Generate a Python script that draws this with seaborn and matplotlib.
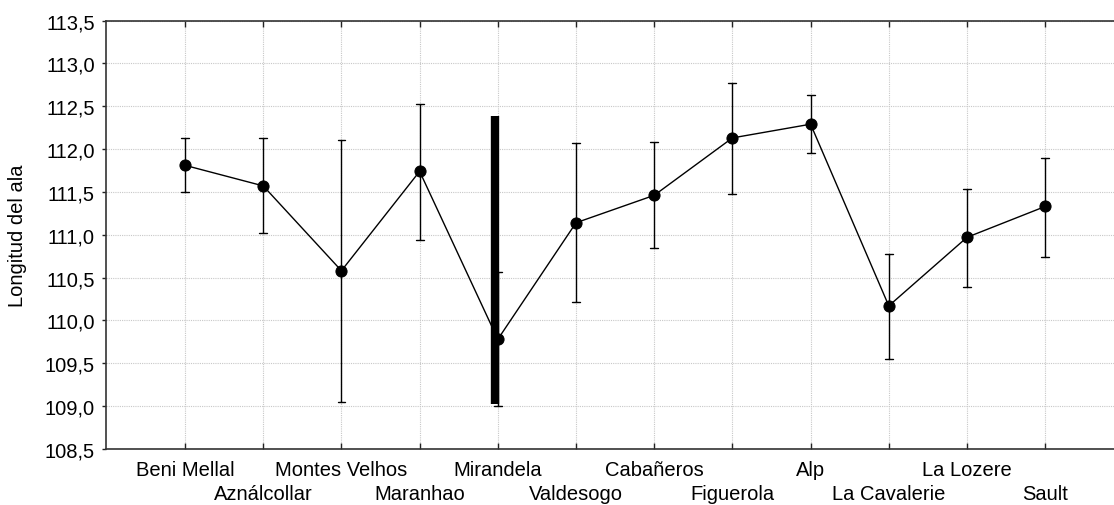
import pandas as pd
import seaborn as sns
import matplotlib.pyplot as plt

# data
sites = ['Beni Mellal', 'Aználcollar', 'Montes Velhos', 'Maranhao', 'Mirandela', 'Valdesogo',
         'Cabañeros', 'Figuerola', 'Alp', 'La Cavalerie', 'La Lozere', 'Sault']
means = [111.81, 111.57, 110.58, 111.74, 109.78, 111.14, 111.46, 112.13, 112.29, 110.17, 110.97, 111.33]
lower = [111.50, 111.02, 109.05, 110.94, 109.00, 110.22, 110.85, 111.48, 111.95, 109.55, 110.39, 110.74]
upper = [112.13, 112.13, 112.11, 112.52, 110.56, 112.07, 112.08, 112.77, 112.63, 110.78, 111.53, 111.90]
# thick vertical bar drawn at Mirandela
bar_site = 'Mirandela'
bar_range = [109.03, 112.39]

yticks = [108.5 + 0.5 * i for i in range(11)]

sns.set_theme(style='white')
plt.rcParams['font.family'] = ['Liberation Sans', 'DejaVu Sans']
plt.rcParams['text.color'] = 'black'
plt.rcParams['axes.labelcolor'] = 'black'
plt.rcParams['xtick.color'] = 'black'
plt.rcParams['ytick.color'] = 'black'

# long table: low / mid / high per site, median = mean, errorbar = min..max
df = pd.DataFrame({'site': sites * 3, 'val': lower + means + upper})

fig = plt.figure(figsize=(11.14, 5.06), dpi=100)
ax = fig.add_axes([0.0952, 0.1107, 1 - 0.0952, 0.9575 - 0.1107])

sns.pointplot(data=df, x='site', y='val', order=sites, estimator='median',
              errorbar=lambda v: (v.min(), v.max()), color='black',
              markers='o', markersize=8, linewidth=1.0, capsize=0.1,
              err_kws={'linewidth': 1.0}, ax=ax)

bx = sites.index(bar_site)
ax.vlines(bx - 0.03, bar_range[0], bar_range[1], color='black', linewidth=6, zorder=5)

ax.set_xlim(-1.01, 11.88)
ax.set_ylim(108.5, 113.5)
ax.set_yticks(yticks)
ax.set_yticklabels([f'{t:.1f}'.replace('.', ',') for t in yticks])

# two rows of site names: even ones on major ticks, odd ones on minor ticks lower down
even = list(range(0, len(sites), 2))
odd = list(range(1, len(sites), 2))
ax.set_xticks(even)
ax.set_xticklabels([sites[i] for i in even])
ax.set_xticks(odd, minor=True)
ax.set_xticklabels([sites[i] for i in odd], minor=True)
ax.set_xlabel('')
ax.set_ylabel('Longitud del ala', fontsize=14.5, labelpad=13)

ax.grid(True, which='both', axis='x', color='#c8c8c8', linestyle=(0, (1, 1)), linewidth=0.8)
ax.grid(True, which='major', axis='y', color='#c8c8c8', linestyle=(0, (1, 1)), linewidth=0.8)
ax.set_axisbelow(True)
ax.tick_params(axis='x', which='both', direction='in', length=4, width=1, color='#222222',
               top=True, bottom=True, labelsize=14.5)
ax.tick_params(axis='x', which='major', pad=8)
ax.tick_params(axis='x', which='minor', pad=25)
ax.tick_params(axis='y', direction='out', length=3, width=1, color='#222222',
               left=True, labelsize=14.5, pad=5)
for s in ['left', 'top', 'bottom']:
    ax.spines[s].set_color('#333333')
    ax.spines[s].set_linewidth(1.2)
ax.spines['right'].set_visible(False)

fig.savefig('out.png', dpi=100)
